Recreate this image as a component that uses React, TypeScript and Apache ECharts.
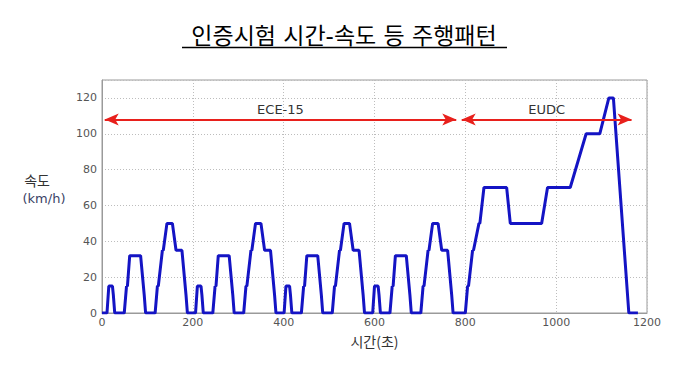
import React, { useEffect, useRef } from "react";
import * as echarts from "echarts";

// Time (s) and speed (km/h) of the driving pattern: 4 x ECE-15 urban cycles + EUDC
const timeSec = [
  0, 11, 15, 23, 25, 28, 49, 54, 56, 61, 85, 93, 96, 117, 122, 124, 133, 135, 143, 155, 163, 176, 185, 188,
  195, 206, 210, 218, 220, 223, 244, 249, 251, 256, 280, 288, 291, 312, 317, 319, 328, 330, 338, 350, 358, 371, 380, 383,
  390, 401, 405, 413, 415, 418, 439, 444, 446, 451, 475, 483, 486, 507, 512, 514, 523, 525, 533, 545, 553, 566, 575, 578,
  585, 596, 600, 608, 610, 613, 634, 639, 641, 646, 670, 678, 681, 702, 707, 709, 718, 720, 728, 740, 748, 761, 770, 773,
  780, 800, 805, 807, 816, 818, 830, 832, 841, 891, 899, 968, 981, 1031, 1066, 1096, 1116, 1126, 1160, 1180,
];
const speedKmh = [
  0, 0, 15, 15, 10, 0, 0, 15, 15, 32, 32, 10, 0, 0, 15, 15, 35, 35, 50, 50, 35, 35, 10, 0,
  0, 0, 15, 15, 10, 0, 0, 15, 15, 32, 32, 10, 0, 0, 15, 15, 35, 35, 50, 50, 35, 35, 10, 0,
  0, 0, 15, 15, 10, 0, 0, 15, 15, 32, 32, 10, 0, 0, 15, 15, 35, 35, 50, 50, 35, 35, 10, 0,
  0, 0, 15, 15, 10, 0, 0, 15, 15, 32, 32, 10, 0, 0, 15, 15, 35, 35, 50, 50, 35, 35, 10, 0,
  0, 0, 15, 15, 35, 35, 50, 50, 70, 70, 50, 50, 70, 70, 100, 100, 120, 120, 0, 0,
];

// Phase annotations (arrows)
const phaseNames = ["ECE-15", "EUDC"];
const phaseStart = [6, 792];
const phaseEnd = [780, 1166];
const phaseSpeed = 108;

const titleText = "인증시험 시간-속도 등 주행패턴";
const xAxisTitle = "시간(초)";
const yAxisTitle1 = "속도";
const yAxisTitle2 = "(km/h)";

export default function App() {
  const ref = useRef<HTMLDivElement>(null);

  useEffect(() => {
    if (!ref.current) return;
    const chart = echarts.init(ref.current, undefined, { renderer: "svg" });
    const points = timeSec.map((t, i) => [t, speedKmh[i]]);
    const markData = phaseNames.map((n, i) => [
      { coord: [phaseStart[i], phaseSpeed], name: n },
      { coord: [phaseEnd[i], phaseSpeed] },
    ]);
    const labelFont = '"DejaVu Sans", "Liberation Sans", sans-serif';
    chart.setOption({
      animation: false,
      backgroundColor: "#ffffff",
      grid: {
        left: 102,
        right: 37,
        top: 80,
        bottom: 57,
        show: true,
        borderColor: "#9a9a9a",
        borderWidth: 1,
        backgroundColor: "transparent",
      },
      xAxis: {
        type: "value",
        min: 0,
        max: 1200,
        interval: 200,
        name: xAxisTitle,
        nameLocation: "middle",
        nameGap: 21,
        nameTextStyle: { fontSize: 14, color: "#333", fontFamily: '"Noto Sans CJK KR", sans-serif' },
        axisLine: { show: true, lineStyle: { color: "#9a9a9a" } },
        axisTick: { show: false },
        axisLabel: {
          fontSize: 11,
          color: "#555",
          margin: 4,
          fontFamily: labelFont,
          formatter: (v: number) => String(v),
        },
        splitLine: { show: true, lineStyle: { color: "#bdbdbd", type: [1, 2], width: 1 } },
      },
      yAxis: {
        type: "value",
        min: 0,
        max: 130,
        interval: 20,
        axisLine: { show: true, lineStyle: { color: "#9a9a9a" } },
        axisTick: { show: false },
        axisLabel: {
          fontSize: 11,
          color: "#555",
          margin: 5,
          fontFamily: labelFont,
          showMaxLabel: false,
          formatter: (v: number) => String(v),
        },
        splitLine: { show: true, lineStyle: { color: "#bdbdbd", type: [1, 2], width: 1 } },
      },
      series: [
        {
          type: "line",
          data: points,
          showSymbol: false,
          lineStyle: { color: "#1414c4", width: 3 },
          itemStyle: { color: "#1414c4" },
          markLine: {
            silent: true,
            symbol: ["arrow", "arrow"],
            symbolSize: [9, 14],
            lineStyle: { color: "#e8201c", width: 2, type: "solid" },
            label: {
              show: true,
              position: "middle",
              formatter: "{b}",
              fontSize: 13,
              color: "#333",
              distance: 3,
              fontFamily: labelFont,
            },
            emphasis: { disabled: true },
            data: markData,
          },
        },
      ],
      graphic: [
        {
          type: "text",
          x: 344,
          y: 36,
          style: {
            text: titleText,
            fontSize: 23,
            fontFamily: '"DejaVu Sans", "Noto Sans CJK KR", sans-serif',
            fill: "#000",
            align: "center",
            verticalAlign: "middle",
          },
        },
        {
          type: "line",
          shape: { x1: 182, y1: 47.5, x2: 507, y2: 47.5 },
          style: { stroke: "#000", lineWidth: 1.5 },
        },
        {
          type: "text",
          x: 37,
          y: 180,
          style: {
            text: yAxisTitle1,
            fontSize: 14,
            fontFamily: '"Noto Sans CJK KR", sans-serif',
            fill: "#333",
            align: "center",
            verticalAlign: "middle",
          },
        },
        {
          type: "text",
          x: 44,
          y: 198,
          style: {
            text: yAxisTitle2,
            fontSize: 13,
            fontFamily: labelFont,
            fill: "#3a3f66",
            align: "center",
            verticalAlign: "middle",
          },
        },
      ],
    });
    return () => chart.dispose();
  }, []);

  return (
    <div
      ref={ref}
      style={{ position: "absolute", left: 0, top: 0, width: 684, height: 370 }}
    />
  );
}
